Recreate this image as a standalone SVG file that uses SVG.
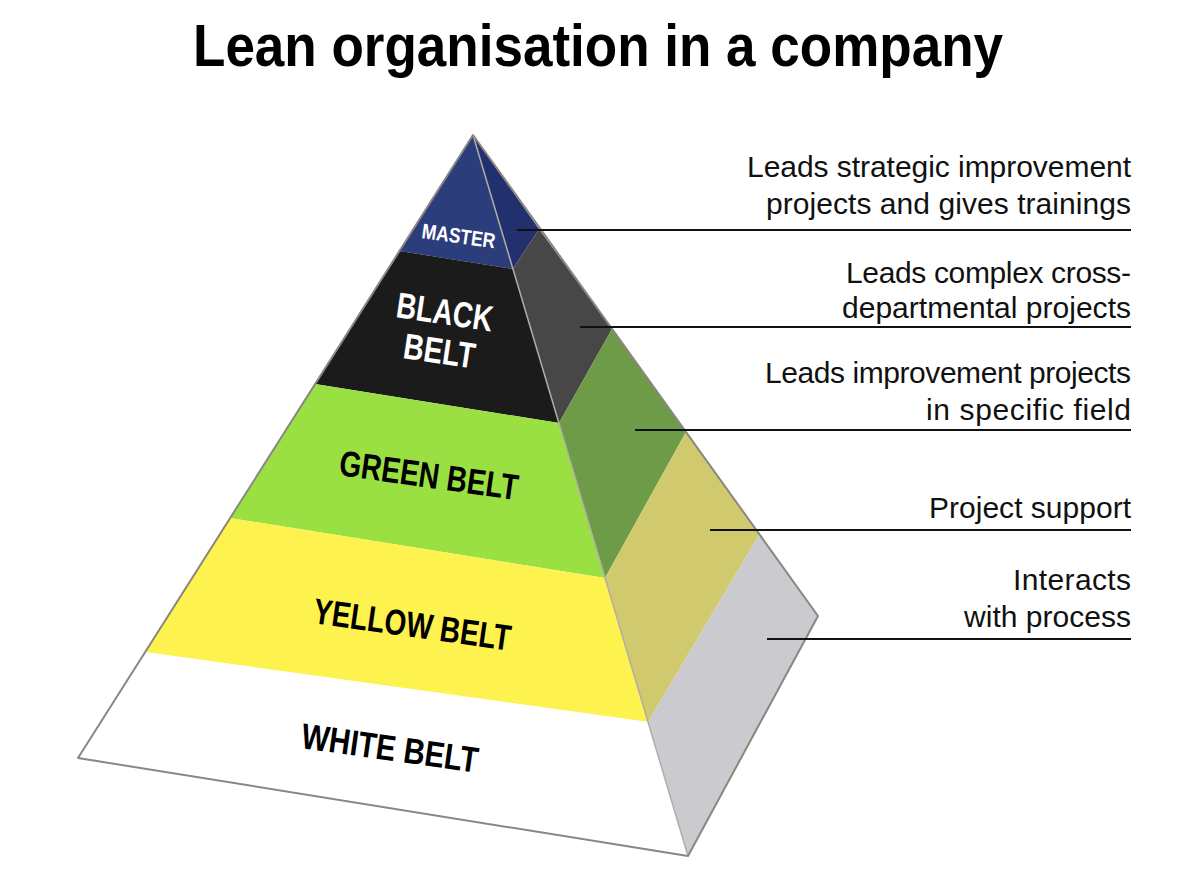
<svg xmlns="http://www.w3.org/2000/svg" width="1200" height="890" viewBox="0 0 1200 890">
<style>
.title{font-family:"Liberation Sans",Arial,sans-serif;font-weight:bold;font-size:60px;fill:#000}
.desc{font-family:"Liberation Sans",Arial,sans-serif;font-size:30px;fill:#111;text-anchor:end}
.band{font-family:"Liberation Sans",Arial,sans-serif;font-weight:bold;font-size:36px}
.small{font-size:21px}
.conn{stroke:#111;stroke-width:2;fill:none}
</style>
<rect width="1200" height="890" fill="#ffffff"/>
<text class="title" x="193" y="66" textLength="810" lengthAdjust="spacingAndGlyphs">Lean organisation in a company</text>

<g id="pyramid">
  <g id="master">
    <polygon points="473,135 513,269 399.5,251" fill="#2c3d7c"/>
    <polygon points="473,135 539,229 513,269" fill="#22306e"/>
    <text class="band small" x="421" y="238" fill="#ffffff" textLength="74" lengthAdjust="spacingAndGlyphs" transform="rotate(8 421 238)">MASTER</text>
  </g>
  <g id="black-belt">
    <polygon points="399.5,251 513,269 559,423 315,384" fill="#1b1b1b"/>
    <polygon points="513,269 539,229 612,329 559,423" fill="#474747"/>
    <text class="band" x="395" y="317" fill="#ffffff" textLength="97" lengthAdjust="spacingAndGlyphs" transform="rotate(8.5 395 317)">BLACK</text>
    <text class="band" x="402" y="358" fill="#ffffff" textLength="72" lengthAdjust="spacingAndGlyphs" transform="rotate(8.5 402 358)">BELT</text>
  </g>
  <g id="green-belt">
    <polygon points="315,384 559,423 605,578 230,518" fill="#9ae043"/>
    <polygon points="559,423 612,329 686,432 605,578" fill="#6d9b48"/>
    <text class="band" x="338" y="475" fill="#000000" textLength="180" lengthAdjust="spacingAndGlyphs" transform="rotate(8 338 475)">GREEN BELT</text>
  </g>
  <g id="yellow-belt">
    <polygon points="230,518 605,578 648,722 145,652" fill="#fdf24e"/>
    <polygon points="605,578 686,432 759,535 648,722" fill="#d1c96d"/>
    <text class="band" x="312" y="623" fill="#000000" textLength="199" lengthAdjust="spacingAndGlyphs" transform="rotate(8 312 623)">YELLOW BELT</text>
  </g>
  <g id="white-belt">
    <polygon points="145,652 648,722 688,856 78,758" fill="#ffffff"/>
    <polygon points="648,722 759,535 818,616 688,856" fill="#cbcbcf"/>
    <text class="band" x="300" y="748" fill="#000000" textLength="178" lengthAdjust="spacingAndGlyphs" transform="rotate(8 300 748)">WHITE BELT</text>
  </g>
  <g id="edges">
    <line x1="473" y1="135" x2="688" y2="856" stroke="#b3ada8" stroke-width="1.5"/>
    <polygon points="473,135 78,758 688,856 818,616" fill="none" stroke="#8b8680" stroke-width="2" stroke-linejoin="round"/>
  </g>
</g>

<g id="connectors">
  <line class="conn" x1="517" y1="230" x2="1131" y2="230"/>
  <line class="conn" x1="580" y1="327" x2="1131" y2="327"/>
  <line class="conn" x1="635" y1="430" x2="1131" y2="430"/>
  <line class="conn" x1="710" y1="530" x2="1131" y2="530"/>
  <line class="conn" x1="767" y1="639" x2="1131" y2="639"/>
</g>

<g id="descriptions">
  <g id="desc-master">
    <text class="desc" x="1131" y="177" textLength="384">Leads strategic improvement</text>
    <text class="desc" x="1131" y="214" textLength="365">projects and gives trainings</text>
  </g>
  <g id="desc-black">
    <text class="desc" x="1131" y="283" textLength="285">Leads complex cross-</text>
    <text class="desc" x="1131" y="318" textLength="289">departmental projects</text>
  </g>
  <g id="desc-green">
    <text class="desc" x="1131" y="383" textLength="366">Leads improvement projects</text>
    <text class="desc" x="1131" y="420" textLength="205">in specific field</text>
  </g>
  <g id="desc-yellow">
    <text class="desc" x="1131" y="518" textLength="202">Project support</text>
  </g>
  <g id="desc-white">
    <text class="desc" x="1131" y="590" textLength="118">Interacts</text>
    <text class="desc" x="1131" y="627" textLength="167">with process</text>
  </g>
</g>
</svg>
